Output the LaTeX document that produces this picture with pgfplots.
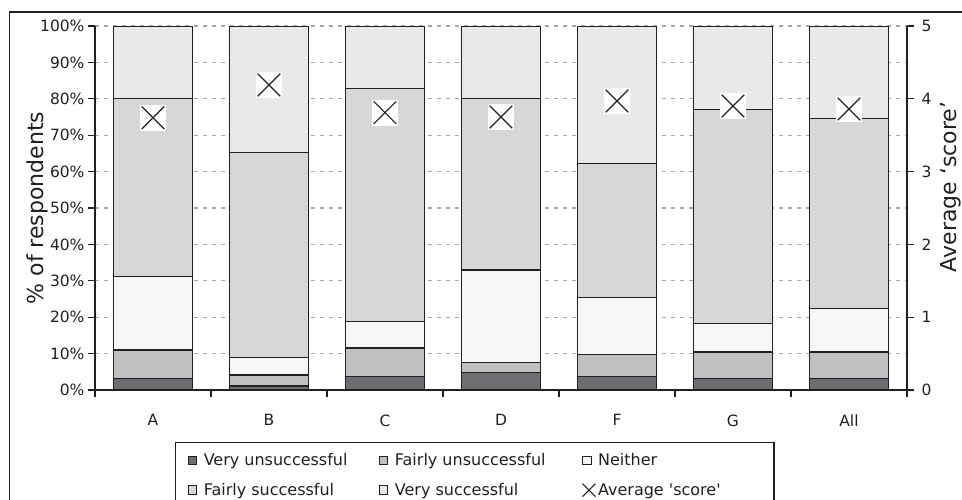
\documentclass[border=0pt]{standalone}
\usepackage{fontspec}
\setmainfont{DejaVu Sans}
\usepackage{pgfplots}
\pgfplotsset{compat=1.18}

\definecolor{vunsucc}{HTML}{6D6E71}
\definecolor{funsucc}{HTML}{BFC0C2}
\definecolor{neither}{HTML}{F7F7F7}
\definecolor{fsucc}{HTML}{D6D7D9}
\definecolor{vsucc}{HTML}{E9E9EB}
\definecolor{ink}{HTML}{231F20}

\pgfplotsset{
  base/.style={
    scale only axis, width=812pt, height=364pt,
    xmin=-0.5, xmax=6.5,
    /pgf/number format/assume math mode=true,
    tick label style={font=\fontsize{15.5}{18}\selectfont, text=ink},
    label style={font=\fontsize{22}{26}\selectfont, text=ink},
    axis line style={ink, line width=1.3pt},
    tick style={ink, line width=1.3pt},
    major tick length=7pt,
    tick align=outside,
  },
  seg/.style={fill=#1, draw=ink, line width=1.3pt},
}

\begin{document}
\begin{tikzpicture}
\useasboundingbox (-95pt,-109pt) rectangle (867pt,390pt);
\clip (-95pt,-109pt) rectangle (867pt,390pt);
\draw[ink, line width=1.5pt] (-85.5pt,-130pt) -- (-85.5pt,378pt) -- (890pt,378pt);

\begin{axis}[base,
  axis x line*=bottom, axis y line*=left,
  xtick pos=left, ytick pos=left,
  ybar stacked, bar width=0.68,
  ymin=0, ymax=100, ytick={0,10,...,100},
  yticklabel={\pgfmathprintnumber{\tick}\%},
  ymajorgrids,
  grid style={gray!70, dash pattern=on 4pt off 5pt, line width=1.2pt},
  xtick={-0.5,0.5,...,6.5}, xticklabels={,,,,,,,,},
  extra x ticks={0,1,2,3,4,5,6},
  extra x tick labels={A,B,C,D,F,G,All},
  extra x tick style={major tick length=0pt, grid=none},
  xticklabel style={yshift=-21pt},
  ylabel={\% of respondents},
  ylabel style={at={(axis description cs:-0.0714,0.5)}, anchor=center},
  legend columns=3,
  legend cell align=left,
  legend style={at={(axis description cs:0.0985,-0.1429)}, anchor=north west,
    draw=ink, line width=1.3pt, inner xsep=12pt, inner ysep=9pt,
    font=\fontsize{16}{19}\selectfont, text=ink, row sep=12pt,
    /tikz/column 2/.style={column sep=27pt},
    /tikz/column 4/.style={column sep=39pt}},
  legend image code/.code={\draw[#1, draw=ink, line width=1pt] (0pt,-4.3pt) rectangle (8.6pt,4.3pt); \path (13pt,0pt);},
]
\addplot[seg=vunsucc] coordinates {(0,3.2) (1,1.1) (2,3.7) (3,4.8) (4,3.7) (5,3.1) (6,3.1)};
\addlegendentry{\makebox[146pt][l]{Very unsuccessful}}
\addplot[seg=funsucc] coordinates {(0,7.8) (1,3.0) (2,7.8) (3,2.8) (4,6.1) (5,7.3) (6,7.3)};
\addlegendentry{\makebox[146pt][l]{Fairly unsuccessful}}
\addplot[seg=neither] coordinates {(0,20.1) (1,4.8) (2,7.3) (3,25.4) (4,15.6) (5,7.8) (6,11.9)};
\addlegendentry{\makebox[162pt][l]{Neither}}
\addplot[seg=fsucc] coordinates {(0,48.9) (1,56.3) (2,64.1) (3,47.0) (4,36.9) (5,58.9) (6,52.3)};
\addlegendentry{\makebox[146pt][l]{Fairly successful}}
\addplot[seg=vsucc] coordinates {(0,20.0) (1,34.8) (2,17.1) (3,20.0) (4,37.7) (5,22.9) (6,25.4)};
\addlegendentry{\makebox[146pt][l]{Very successful}}
\addlegendimage{legend image code/.code={\draw[ink, line width=1.1pt] (0pt,-6.5pt) -- (13pt,6.5pt) (0pt,6.5pt) -- (13pt,-6.5pt);}}
\addlegendentry{\makebox[162pt][l]{Average \textquotesingle score\textquotesingle}}
\end{axis}

\begin{axis}[base,
  axis x line=none, axis y line*=right, ytick pos=right,
  ymin=0, ymax=5, ytick={0,1,...,5},
  yticklabel style={xshift=4pt},
  ylabel={Average ‘score’},
  ylabel style={at={(axis description cs:1.0542,0.5577)}, anchor=center},
]
\addplot[only marks, mark=square*, mark size=12.5pt, mark options={fill=white, draw=white}]
  coordinates {(0,3.74) (1,4.19) (2,3.81) (3,3.75) (4,3.97) (5,3.90) (6,3.86)};
\addplot[only marks, mark=x, mark size=16pt, mark options={draw=ink, line width=1.2pt}]
  coordinates {(0,3.74) (1,4.19) (2,3.81) (3,3.75) (4,3.97) (5,3.90) (6,3.86)};
\end{axis}
\end{tikzpicture}
\end{document}
